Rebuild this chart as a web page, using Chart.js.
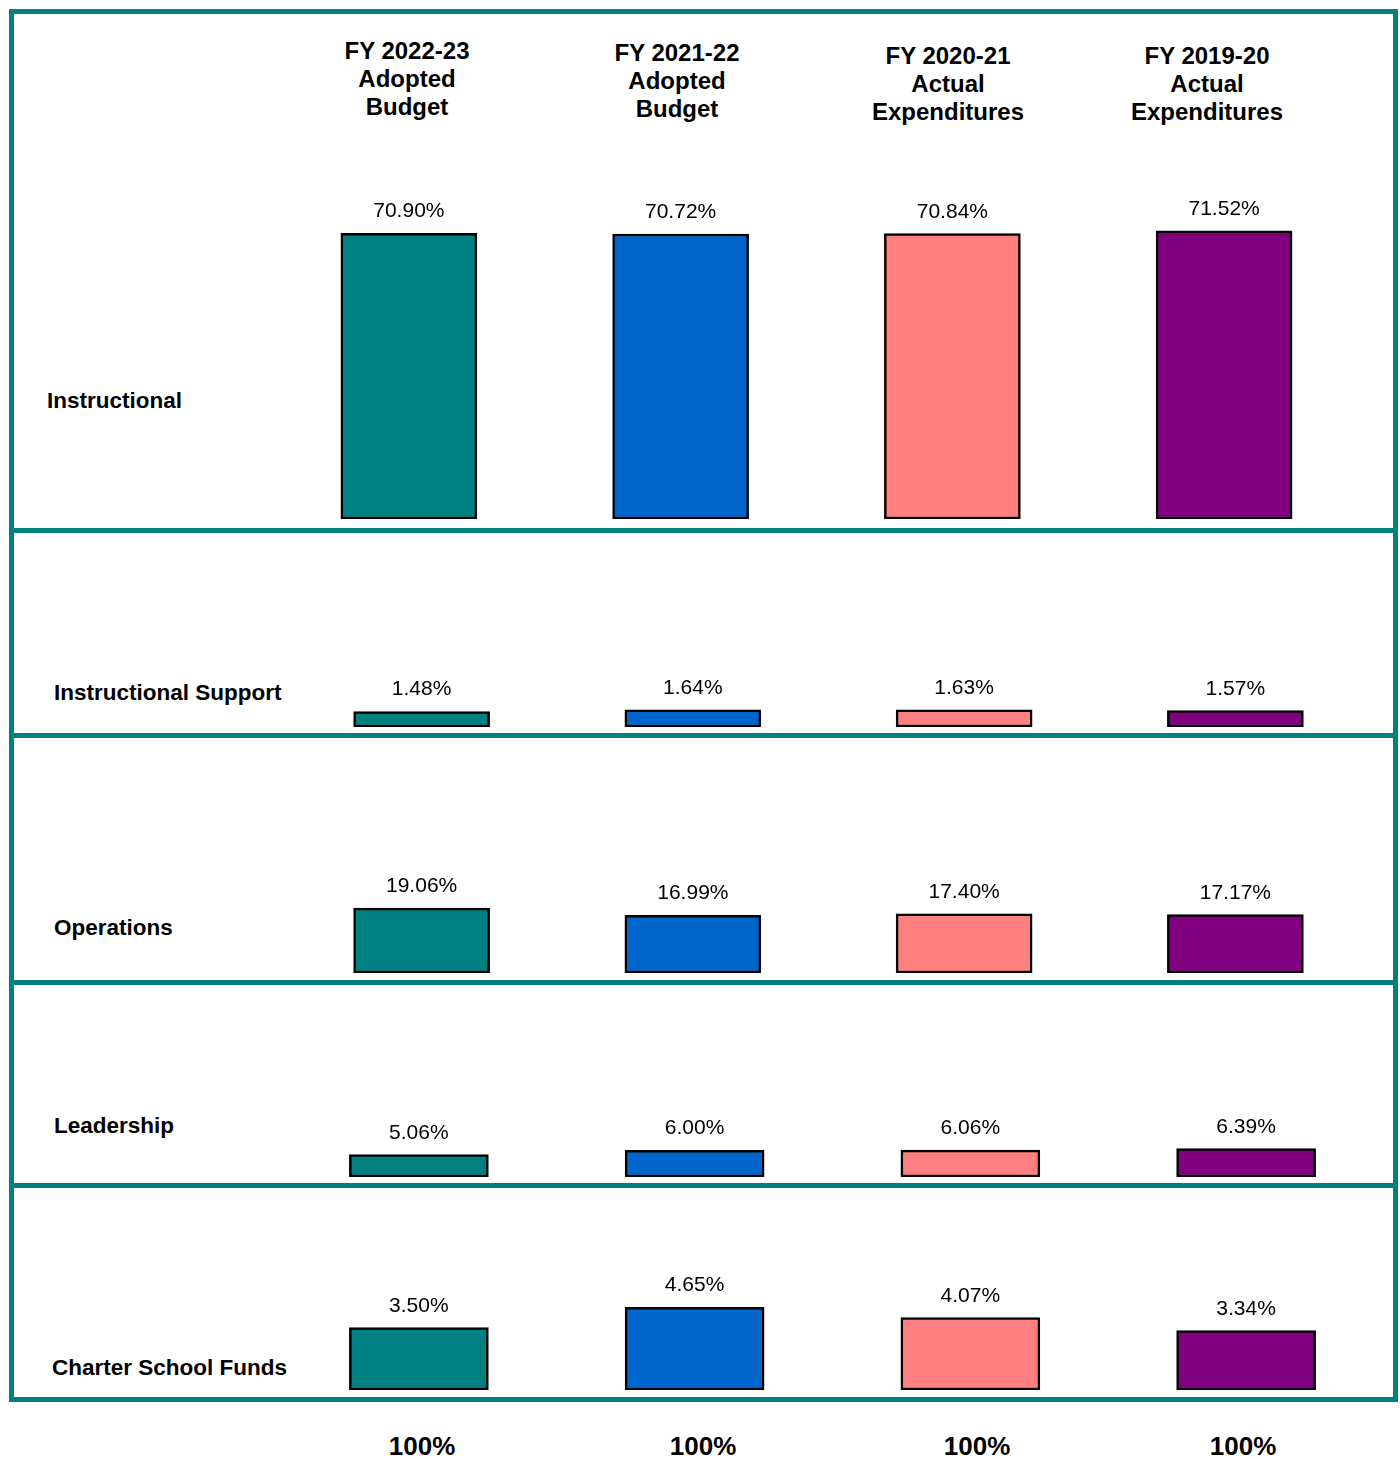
<!DOCTYPE html>
<html>
<head>
<meta charset="utf-8">
<title>Expenditures by Category</title>
<script src="https://cdn.jsdelivr.net/npm/chart.js@4.4.1/dist/chart.umd.min.js"></script>
<style>
    body { margin: 0; background: #fff; font-family: "Liberation Sans", Arial, sans-serif; color: #000; }
    #page { position: relative; width: 1400px; height: 1459px; overflow: hidden; }
    .frame { position: absolute; left: 9px; top: 9px; width: 1389px; height: 1393px; box-sizing: border-box; border: 5px solid #008080; }
    .divider { position: absolute; left: 9px; width: 1389px; height: 5px; background: #008080; }
    .header { position: absolute; width: 280px; text-align: center; font-weight: bold; font-size: 24px; line-height: 28px; }
    .category { position: absolute; font-weight: bold; font-size: 22.5px; line-height: 30px; white-space: nowrap; }
    .total { position: absolute; width: 120px; text-align: center; font-weight: bold; font-size: 26px; line-height: 30px; }
    canvas { position: absolute; }
</style>
</head>
<body>
<div id="page"></div>

<script>
// ---- data ----
const columnKeys = ['FY 2022-23', 'FY 2021-22', 'FY 2020-21', 'FY 2019-20'];
const columnHeaders = [
    ['FY 2022-23', 'Adopted', 'Budget'],
    ['FY 2021-22', 'Adopted', 'Budget'],
    ['FY 2020-21', 'Actual', 'Expenditures'],
    ['FY 2019-20', 'Actual', 'Expenditures']
];
const categories = ['Instructional', 'Instructional Support', 'Operations', 'Leadership', 'Charter School Funds'];

const instructional = [70.90, 70.72, 70.84, 71.52];
const instructionalSupport = [1.48, 1.64, 1.63, 1.57];
const operations = [19.06, 16.99, 17.40, 17.17];
const leadership = [5.06, 6.00, 6.06, 6.39];
const charterSchoolFunds = [3.50, 4.65, 4.07, 3.34];

const totals = ['100%', '100%', '100%', '100%'];

// ---- styling / layout ----
const barColors = ['#008080', '#0066CC', '#FF8080', '#800080'];
const panelValues = [instructional, instructionalSupport, operations, leadership, charterSchoolFunds];

// each panel has its own scale (px per percentage point)
const panelLayout = [
    { left: 273, width: 1087, top: 150, base: 519, pxPerPct: 4.03, barWidth: 136 },
    { left: 286, width: 1085, top: 545, base: 727, pxPerPct: 10.5, barWidth: 136 },
    { left: 286, width: 1085, top: 750, base: 973, pxPerPct: 3.4, barWidth: 136 },
    { left: 281, width: 1103, top: 995, base: 1177, pxPerPct: 4.44, barWidth: 139 },
    { left: 281, width: 1103, top: 1200, base: 1390, pxPerPct: 17.8, barWidth: 139 }
];
const categoryPos = [[47, 401], [54, 693], [54, 928], [54, 1126], [52, 1368]];
const headerPos = [[407, 51], [677, 53], [948, 56], [1207, 56]];
const totalPos = [[422, 1446], [703, 1446], [977, 1446], [1243, 1446]];
const dividerTops = [528, 733, 980, 1183];

const page = document.getElementById('page');

function addDiv(cls, text, style) {
    const el = document.createElement('div');
    el.className = cls;
    if (text) el.innerHTML = text;
    Object.assign(el.style, style);
    page.appendChild(el);
    return el;
}

// frame and dividers
addDiv('frame', '', {});
dividerTops.forEach(t => addDiv('divider', '', { top: t + 'px' }));

// column headers
columnHeaders.forEach((lines, i) => {
    const [cx, cy] = headerPos[i];
    addDiv('header', lines.join('<br>'), { left: (cx - 140) + 'px', top: (cy - 14) + 'px' });
});

// row labels
categories.forEach((name, i) => {
    const [x, cy] = categoryPos[i];
    addDiv('category', name, { left: x + 'px', top: (cy - 15) + 'px' });
});

// totals row
totals.forEach((t, i) => {
    const [cx, cy] = totalPos[i];
    addDiv('total', t, { left: (cx - 60) + 'px', top: (cy - 15) + 'px' });
});

// value labels above each bar
const valueLabels = {
    id: 'valueLabels',
    afterDatasetsDraw(chart) {
        const ctx = chart.ctx;
        const meta = chart.getDatasetMeta(0);
        const values = chart.data.datasets[0].data;
        ctx.save();
        ctx.font = '21px "Liberation Sans", Arial, sans-serif';
        ctx.fillStyle = '#000';
        ctx.textAlign = 'center';
        ctx.textBaseline = 'alphabetic';
        meta.data.forEach((bar, i) => {
            ctx.fillText(values[i].toFixed(2) + '%', bar.x, bar.y - 16);
        });
        ctx.restore();
    }
};

// one small bar chart per category panel
panelValues.forEach((values, p) => {
    const lay = panelLayout[p];
    const canvas = document.createElement('canvas');
    const h = lay.base - lay.top;
    canvas.width = lay.width;
    canvas.height = h;
    canvas.style.left = lay.left + 'px';
    canvas.style.top = lay.top + 'px';
    canvas.style.width = lay.width + 'px';
    canvas.style.height = h + 'px';
    page.appendChild(canvas);

    new Chart(canvas, {
        type: 'bar',
        data: {
            labels: columnKeys,
            datasets: [{
                label: categories[p],
                data: values,
                backgroundColor: barColors,
                borderColor: '#000',
                borderWidth: 2.5,
                borderSkipped: false,
                barThickness: lay.barWidth
            }]
        },
        options: {
            responsive: false,
            animation: false,
            devicePixelRatio: 1,
            layout: { padding: 0 },
            plugins: {
                legend: { display: false },
                tooltip: { enabled: false }
            },
            scales: {
                x: { display: false },
                y: { display: false, min: 0, max: h / lay.pxPerPct }
            }
        },
        plugins: [valueLabels]
    });
});
</script>
</body>
</html>
